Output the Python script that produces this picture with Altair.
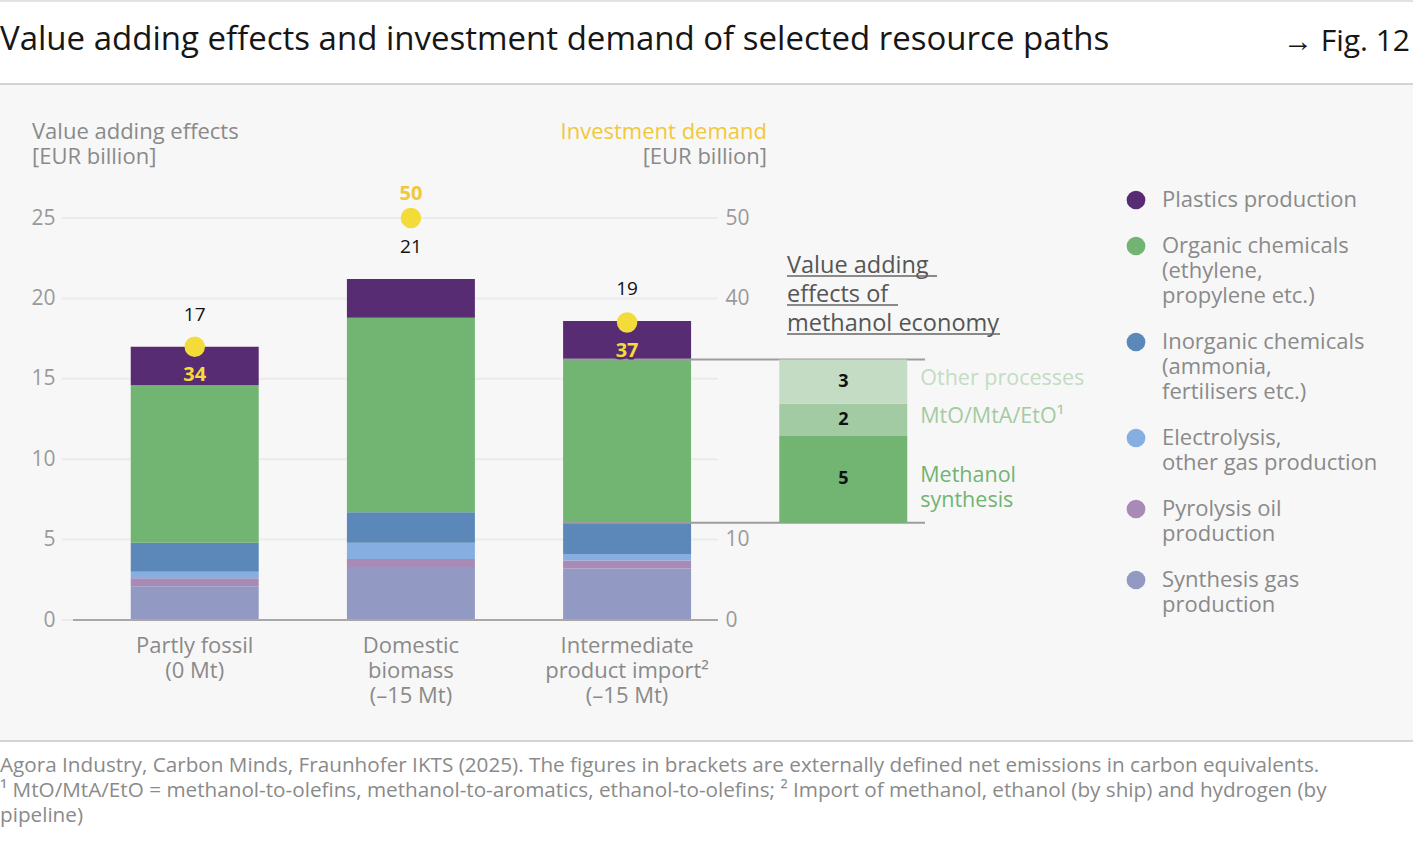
import altair as alt
import numpy as np
import pandas as pd

FONT = "Open Sans"

# ---------------------------------------------------------------- data
paths = ["Partly fossil", "Domestic biomass", "Intermediate product import"]
path_labels = [
    "Partly fossil\n(0 Mt)",
    "Domestic\nbiomass\n(–15 Mt)",
    "Intermediate\nproduct import²\n(–15 Mt)",
]

# value adding effects [EUR billion], stacked from the bottom up
processes = [
    "Synthesis gas\nproduction",
    "Pyrolysis oil\nproduction",
    "Electrolysis,\nother gas production",
    "Inorganic chemicals\n(ammonia,\nfertilisers etc.)",
    "Organic chemicals\n(ethylene,\npropylene etc.)",
    "Plastics production",
]
synthesis_gas = [2.1, 3.3, 3.2]
pyrolysis_oil = [0.5, 0.5, 0.5]
electrolysis = [0.4, 1.0, 0.4]
inorganic = [1.8, 1.9, 1.95]
organic = [9.8, 12.1, 10.15]
plastics = [2.4, 2.4, 2.4]

# investment demand [EUR billion]
investment = [34, 50, 37]

# breakdown of the organic chemicals of the import path (methanol economy)
methanol_column = "Methanol economy"
methanol_parts = ["Methanol\nsynthesis", "MtO/MtA/EtO¹", "Other processes"]
methanol_values = [5.4, 2.0, 2.75]

left_ticks = [0, 5, 10, 15, 20, 25]
right_ticks = [0, 10, 40, 50]

# ---------------------------------------------------------------- styles
process_colors = ["#929ac4", "#a78ab5", "#86aee0", "#5b88b8", "#72b472", "#582c73"]
methanol_colors = ["#72b472", "#a3cba3", "#c3dcc3"]
YELLOW = "#f3dc3a"
GOLD = "#f1c83c"
PURPLE = "#582c73"
GREY_TEXT = "#8a8a8a"
AXIS_GREY = "#9a9a9a"

# plot-area geometry on the 1413 x 843 page
LEFT, TOP = 62, 218
W, H = 914, 402
PAGE_W, PAGE_H = 1413, 843


def px(x):
    return x - LEFT


def py(y):
    return y - TOP


def top_of(center, size):
    # y of a "top" baseline that puts the first text line's middle at `center`
    return center - 0.49 * size


# ---------------------------------------------------------------- tables
series = [synthesis_gas, pyrolysis_oil, electrolysis, inorganic, organic, plastics]
rows = []
for k, (proc, vals) in enumerate(zip(processes, series)):
    for path, v in zip(paths, vals):
        rows.append({"path": path, "process": proc, "value": v, "order": k})
bars = pd.DataFrame(rows)

totals = bars.groupby("path", sort=False)["value"].sum()

imp = paths.index("Intermediate product import")
meth_base = sum(s[imp] for s in series[:4])
meth_top = meth_base + np.cumsum(methanol_values)
meth = pd.DataFrame({
    "path": methanol_column,
    "part": methanol_parts,
    "y0": np.concatenate([[meth_base], meth_top[:-1]]),
    "y1": meth_top,
    "value": methanol_values,
})
connectors = pd.DataFrame({
    "path": paths[imp],
    "level": [meth_base, meth_base + organic[imp]],
})

inv = pd.DataFrame({"path": paths, "investment": investment,
                    "total": [totals[p] for p in paths]})
# investment is plotted on a scale twice the value scale
inv["spot"] = np.where(inv["investment"] / 2 > inv["total"], "above", "inside")

xlab = pd.DataFrame({"path": paths, "label": path_labels})
grid = pd.DataFrame({"v": left_ticks})
blank = pd.DataFrame({"k": [0]})

# ---------------------------------------------------------------- scales and axes
x_scale = alt.Scale(domain=paths + [methanol_column],
                    paddingInner=0.408, paddingOuter=0.318)
y_scale = alt.Scale(domain=[0, 25], nice=False)
inv_scale = alt.Scale(domain=[0, 50], nice=False)
color_scale = alt.Scale(domain=processes + methanol_parts,
                        range=process_colors + methanol_colors)

left_axis = alt.Axis(values=left_ticks, grid=False, ticks=False, domain=False,
                     labelPadding=7, labelFontSize=21, labelColor=AXIS_GREY,
                     labelFont=FONT, title=None, zindex=2)
right_axis = alt.Axis(orient="right", offset=-(W - px(718)), values=right_ticks,
                      grid=False, ticks=False, domain=False, labelPadding=7,
                      labelFontSize=21, labelColor=AXIS_GREY, labelFont=FONT,
                      title=None, zindex=2)

X = alt.X("path:N", scale=x_scale, axis=None)


def Yv(field, **kw):
    return alt.Y(field, scale=y_scale, axis=left_axis, **kw)


def Yi(field):
    return alt.Y(field, scale=inv_scale, axis=right_axis)


# ---------------------------------------------------------------- value layers
grid_layer = alt.Chart(grid).mark_rule(color="#ebebeb", strokeWidth=2).encode(
    x=alt.value(0), x2=alt.value(px(718)), y=Yv("v:Q"),
)

bar_layer = alt.Chart(bars).mark_bar().encode(
    x=X,
    y=Yv("value:Q", stack="zero"),
    color=alt.Color(
        "process:N", scale=color_scale,
        legend=alt.Legend(
            values=processes[::-1], title=None, orient="none",
            legendX=px(1125), legendY=py(189), padding=0, zindex=2,
            symbolType="circle", symbolSize=350, symbolStrokeWidth=0, symbolOpacity=1,
            labelFont=FONT, labelFontSize=22, labelColor=GREY_TEXT, labelOffset=15,
            labelLimit=400, rowPadding=24,
            labelExpr="split(datum.label, '\\n')",
        ),
    ),
    order=alt.Order("order:Q", sort="ascending"),
)

baseline = alt.Chart(blank).mark_rule(color="#a8a8a8", strokeWidth=2).encode(
    x=alt.value(px(73)), x2=alt.value(px(718)),
    y=alt.Y(datum=0, scale=y_scale, axis=left_axis),
)

total_layer = alt.Chart(bars).transform_aggregate(
    total="sum(value)", groupby=["path"]
).mark_text(dy=-32, fontSize=19, font=FONT, color="#111111", fontWeight=500).encode(
    x=X, y=Yv("total:Q"),
    text=alt.Text("total:Q", format=".0f"),
)

connector_layer = alt.Chart(connectors).mark_rule(color="#9d9d9d", strokeWidth=2).encode(
    x=alt.X("path:N", scale=x_scale, axis=None, bandPosition=0),
    x2=alt.value(px(925)),
    y=Yv("level:Q"),
)

meth_bar = alt.Chart(meth).mark_bar().encode(
    x=X,
    y=Yv("y0:Q"), y2="y1:Q",
    color=alt.Color("part:N", scale=color_scale, legend=None),
)

meth_values = alt.Chart(meth).transform_calculate(
    mid="(datum.y0 + datum.y1) / 2"
).mark_text(fontSize=18, font=FONT, fontWeight="bold", color="#111111").encode(
    x=X, y=Yv("mid:Q"),
    text=alt.Text("value:Q", format=".0f"),
)

meth_names = alt.Chart(meth).transform_calculate(
    mid="(datum.y0 + datum.y1) / 2"
).mark_text(align="left", dx=13, dy=-3, fontSize=21.5, font=FONT, lineBreak="\n",
            lineHeight=25).encode(
    x=alt.X("path:N", scale=x_scale, axis=None, bandPosition=1),
    y=Yv("mid:Q"),
    text="part:N",
    color=alt.Color("part:N", scale=color_scale, legend=None),
)

x_labels = alt.Chart(xlab).mark_text(
    baseline="top", fontSize=22, font=FONT, color=GREY_TEXT, lineBreak="\n", lineHeight=25,
).encode(x=X, y=alt.value(py(top_of(647, 22))), text="label:N")

value_group = alt.layer(grid_layer, bar_layer, baseline, total_layer, connector_layer,
                        meth_bar, meth_values, meth_names, x_labels)

# ---------------------------------------------------------------- investment layers
inv_points = alt.Chart(inv).mark_circle(size=420, color=YELLOW, opacity=1).encode(
    x=X, y=Yi("investment:Q"),
)

inv_above = alt.Chart(inv).transform_filter("datum.spot == 'above'").mark_text(
    dy=-24, fontSize=20, font=FONT, fontWeight="bold", color=GOLD,
).encode(x=X, y=Yi("investment:Q"), text="investment:Q")

inv_halo = alt.Chart(inv).transform_filter("datum.spot == 'inside'").mark_text(
    dy=28, fontSize=20, font=FONT, fontWeight="bold", color=PURPLE,
    stroke=PURPLE, strokeWidth=5, strokeJoin="round",
).encode(x=X, y=Yi("investment:Q"), text="investment:Q")

inv_inside = alt.Chart(inv).transform_filter("datum.spot == 'inside'").mark_text(
    dy=28, fontSize=20, font=FONT, fontWeight="bold", color=YELLOW,
).encode(x=X, y=Yi("investment:Q"), text="investment:Q")

inv_group = alt.layer(inv_points, inv_above, inv_halo, inv_inside)


# ---------------------------------------------------------------- page furniture
def text_at(text, x, y_mid, size=22, color=GREY_TEXT, align="left", weight="normal",
            line_height=25):
    return alt.Chart(blank).mark_text(
        text=text, align=align, baseline="top", fontSize=size, font=FONT,
        color=color, fontWeight=weight, lineBreak="\n", lineHeight=line_height,
    ).encode(x=alt.value(px(x)), y=alt.value(py(top_of(y_mid, size))))


def hline(x1, x2, y, color, width):
    return alt.Chart(blank).mark_rule(color=color, strokeWidth=width).encode(
        x=alt.value(px(x1)), x2=alt.value(px(x2)), y=alt.value(py(y)))


panel = alt.Chart(blank).mark_rect(color="#f7f7f7").encode(
    x=alt.value(px(0)), x2=alt.value(px(PAGE_W)),
    y=alt.value(py(85)), y2=alt.value(py(740)),
)

furniture = [
    hline(0, PAGE_W, 1, "#e2e2e2", 2),
    hline(0, PAGE_W, 84, "#d4d4d4", 2),
    hline(0, PAGE_W, 741, "#d4d4d4", 2),
    text_at("Value adding effects and investment demand of selected resource paths",
            0, 40, size=33, color="#161616"),
    text_at("→ Fig. 12", 1410, 42, size=30, color="#161616", align="right"),
    text_at("Value adding effects\n[EUR billion]", 32, 133),
    text_at("Investment demand", 767, 133, color=GOLD, align="right"),
    text_at("[EUR billion]", 767, 158, align="right"),
    text_at("Value adding \neffects of \nmethanol economy", 787, 266, size=23.5,
            color="#555555", line_height=29),
    hline(787, 937, 276, "#666666", 1.5),
    hline(787, 898, 305, "#666666", 1.5),
    hline(787, 1000, 334, "#666666", 1.5),
    text_at("Agora Industry, Carbon Minds, Fraunhofer IKTS (2025). The figures in brackets "
            "are externally defined net emissions in carbon equivalents.\n"
            "¹ MtO/MtA/EtO = methanol-to-olefins, methanol-to-aromatics, ethanol-to-olefins; "
            "² Import of methanol, ethanol (by ship) and hydrogen (by\npipeline)",
            0, 766, size=20.7, line_height=25),
]

chart = alt.layer(panel, value_group, inv_group, *furniture).resolve_scale(
    y="independent"
).properties(
    width=W, height=H,
    autosize=alt.AutoSizeParams(type="none"),
    padding={"left": LEFT, "top": TOP, "right": PAGE_W - LEFT - W,
             "bottom": PAGE_H - TOP - H},
    background="white",
).configure(
    style={"guide-label": {"lineHeight": 25}}
).configure_view(stroke="transparent").configure_text(font=FONT)

chart.save("out.html", embed_options={"renderer": "svg", "actions": False})
